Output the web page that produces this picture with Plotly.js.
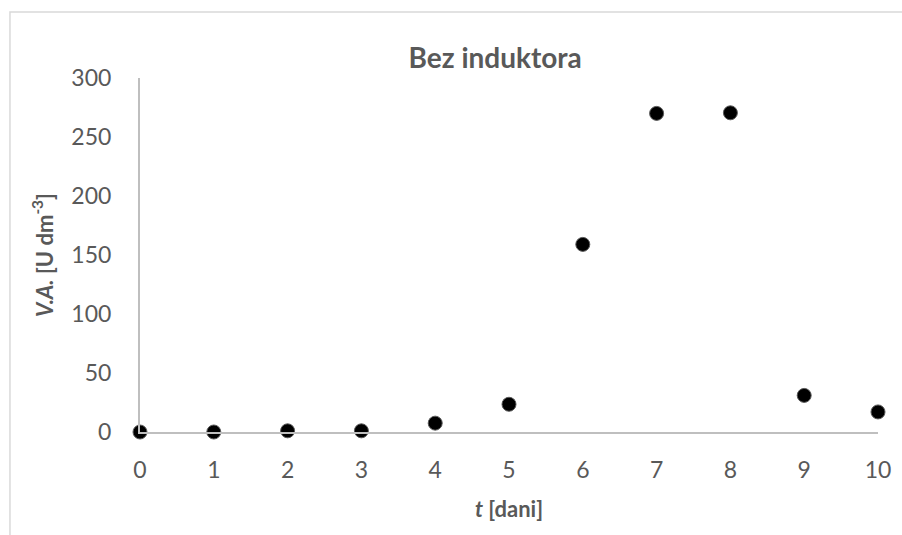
<!DOCTYPE html>
<html>
<head>
<meta charset="utf-8">
<script src="https://cdn.plot.ly/plotly-3.0.1.min.js"></script>
<style>html,body{margin:0;padding:0;background:#fff;}#chart{width:902px;height:535px;}</style>
</head>
<body>
<div id="chart"></div>
<script>
const days = [0, 1, 2, 3, 4, 5, 6, 7, 8, 9, 10];
const activity = [0, 0, 1, 1, 7.5, 23.5, 159, 270, 270.5, 31, 17];
const xTicks = [0, 1, 2, 3, 4, 5, 6, 7, 8, 9, 10];
const yTicks = [0, 50, 100, 150, 200, 250, 300];
const chartTitle = 'Bez induktora';
const xTitle = '<b><i>t</i> [dani]</b>';
const yTitle = '<b><i>V.A.</i> [U dm<sup>-3</sup>]</b>';

const trace = {
  x: days, y: activity, type: 'scatter', mode: 'markers',
  marker: {color: '#000000', size: 14, line: {color: '#595959', width: 1}},
  cliponaxis: false, hoverinfo: 'skip'
};

const font = 'Lato, "Noto Sans", sans-serif';
const layout = {
  width: 902, height: 535,
  margin: {l: 140, r: 24, t: 78, b: 103},
  paper_bgcolor: '#ffffff', plot_bgcolor: '#ffffff',
  showlegend: false,
  font: {family: font, color: '#595959', size: 23},
  title: {text: '<b>' + chartTitle + '</b>', font: {family: font, size: 28, color: '#595959'},
    x: 0.549, xref: 'container', y: 0.892, yref: 'container', xanchor: 'center', yanchor: 'middle'},
  xaxis: {
    range: [0, 10], tickvals: xTicks, ticktext: xTicks.map(String),
    showgrid: false, zeroline: false, showline: true, linecolor: '#bfbfbf', linewidth: 2,
    ticks: 'outside', ticklen: 16, tickcolor: 'rgba(0,0,0,0)', tickfont: {size: 23, color: '#595959'},
    title: {text: xTitle, font: {size: 22, color: '#595959'}, standoff: 20}
  },
  yaxis: {
    range: [0, 300], tickvals: yTicks, ticktext: yTicks.map(String),
    showgrid: false, zeroline: false, showline: true, linecolor: '#bfbfbf', linewidth: 2,
    ticks: 'outside', ticklen: 22, tickcolor: 'rgba(0,0,0,0)', tickfont: {size: 23, color: '#595959'},
    title: {text: yTitle, font: {size: 22, color: '#595959'}, standoff: 12}
  },
  shapes: [{
    type: 'rect', xref: 'paper', yref: 'paper',
    x0: -0.1762, x1: 1.2, y0: -0.5, y1: 1.1864,
    line: {color: '#d9d9d9', width: 1.5}, fillcolor: 'rgba(0,0,0,0)', layer: 'below'
  }]
};

Plotly.newPlot('chart', [trace], layout, {displayModeBar: false, staticPlot: true});
</script>
</body>
</html>
